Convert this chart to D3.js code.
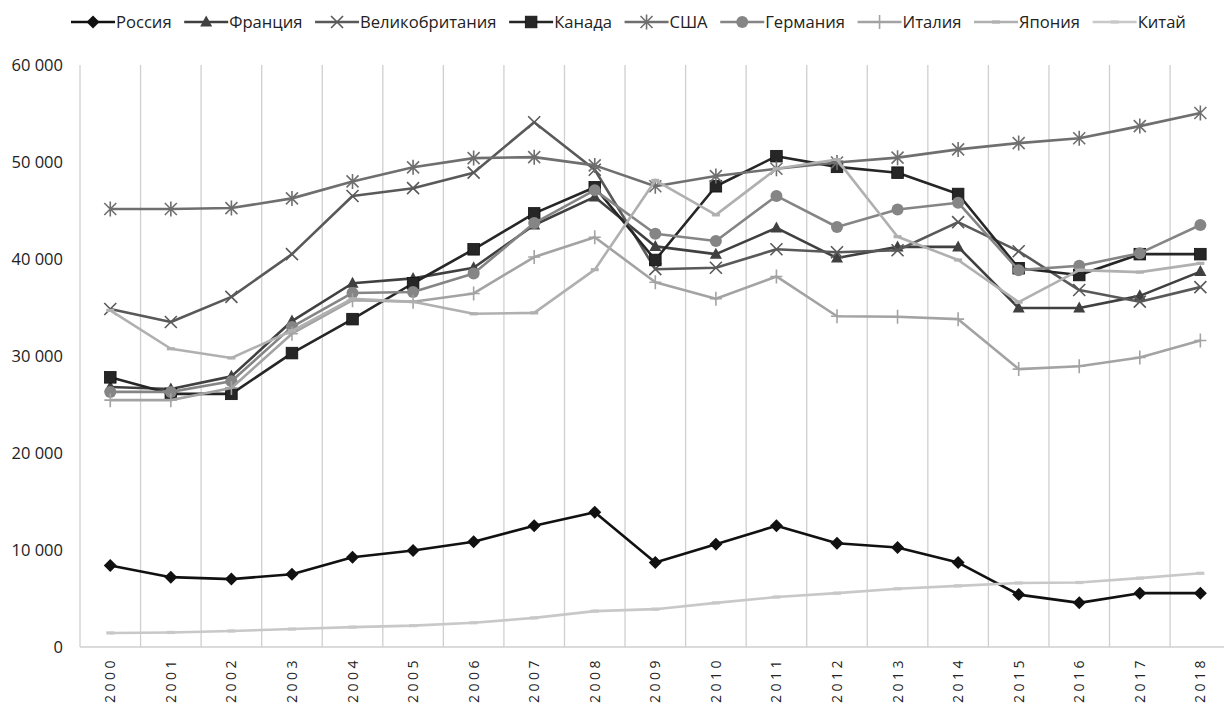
<!DOCTYPE html>
<html><head><meta charset="utf-8">
<script src="https://cdn.jsdelivr.net/npm/d3@7"></script>
<style>
body{margin:0;background:#fff}
svg{display:block}
text{font-family:"Open Sans",sans-serif;fill:#222}
</style>
</head><body>
<svg id="chart" width="1224" height="705"></svg>
<script>
// ---- data ----
const years = [2000,2001,2002,2003,2004,2005,2006,2007,2008,2009,2010,2011,2012,2013,2014,2015,2016,2017,2018];
const yTicks = [0,10000,20000,30000,40000,50000,60000];
const seriesNames = ["Россия","Франция","Великобритания","Канада","США","Германия","Италия","Япония","Китай"];
const russia  = [8400,7200,7000,7500,9250,9950,10850,12500,13900,8700,10600,12500,10700,10250,8700,5400,4550,5550,5550];
const france  = [26800,26600,27900,33600,37500,38000,39100,43500,46400,41300,40500,43200,40100,41250,41250,34950,34950,36200,38700];
const uk      = [34850,33500,36100,40500,46500,47300,48900,54100,49200,38950,39100,41000,40700,40900,43800,40800,36800,35600,37100];
const canada  = [27800,26100,26100,30300,33800,37500,41000,44700,47400,39900,47500,50600,49500,48900,46700,39050,38350,40500,40500];
const usa     = [45150,45150,45250,46250,48000,49450,50400,50500,49650,47500,48550,49300,49950,50450,51300,51950,52450,53700,55050];
const germany = [26300,26300,27400,33000,36500,36600,38500,43700,47100,42600,41850,46500,43300,45100,45800,38850,39300,40600,43500];
const italy   = [25450,25450,26700,32300,35750,35600,36450,40200,42250,37600,35900,38200,34100,34050,33800,28650,28950,29850,31600];
const japan   = [34700,30750,29800,32600,35900,35600,34350,34450,38900,48100,44550,49300,50250,42300,39900,35550,38850,38650,39550];
const china   = [1450,1500,1650,1850,2050,2200,2500,3000,3700,3900,4550,5150,5550,6000,6300,6600,6650,7100,7600];
const seriesValues = [russia,france,uk,canada,usa,germany,italy,japan,china];

// ---- styles (separate from data) ----
const styles = [
  {color:"#111111", marker:"diamond"},
  {color:"#404040", marker:"triangle"},
  {color:"#595959", marker:"x"},
  {color:"#262626", marker:"square"},
  {color:"#6f6f6f", marker:"star"},
  {color:"#858585", marker:"circle"},
  {color:"#a3a3a3", marker:"plus"},
  {color:"#b0b0b0", marker:"dash"},
  {color:"#c8c8c8", marker:"dash"}
];

(function(){
const svg = d3.select("#chart");
const pLeft = 80, pTop = 65, pBottom = 647;
const bandW = 60.56;
const pRight = pLeft + bandW * years.length;

const x = d3.scaleBand().domain(years).range([pLeft, pRight]).padding(0);
const y = d3.scaleLinear().domain([0, 60000]).range([pBottom, pTop]);
const cx = d => x(d) + x.bandwidth()/2;

const loc = d3.formatLocale({decimal:",", thousands:" ", grouping:[3], currency:["",""]});
const fmt = loc.format(",");

const grid = svg.append("g").attr("class", "grid");
const bounds = years.map(d => x(d)).concat([pRight]);
grid.selectAll("line.v").data(bounds).join("line").attr("class", "v")
  .attr("x1", d => d).attr("x2", d => d)
  .attr("y1", pTop).attr("y2", pBottom)
  .attr("stroke", "#cfcfcf").attr("stroke-width", 1.3);
grid.append("line").attr("x1", pLeft).attr("x2", pRight).attr("y1", y(0)).attr("y2", y(0))
  .attr("stroke", "#cfcfcf").attr("stroke-width", 1.3);
svg.append("rect").attr("x", 0).attr("y", pBottom + 1).attr("width", 1224).attr("height", 705 - pBottom)
  .attr("fill", "#fff");

svg.append("g").selectAll("text").data(yTicks).join("text")
  .attr("x", 63).attr("y", d => y(d)).attr("dy", "0.36em")
  .attr("text-anchor", "end").attr("font-size", 16.5)
  .text(d => fmt(d));

svg.append("g").selectAll("text").data(years).join("text")
  .attr("transform", d => `translate(${cx(d)+5},657) rotate(-90)`)
  .attr("text-anchor", "end").attr("font-size", 14)
  .attr("letter-spacing", "3.5px")
  .text(d => String(d));

function drawMarker(sel, type, color) {
  const s = 6.5;
  if (type === "diamond") {
    sel.append("path").attr("d", `M0,${-s}L${s},0L0,${s}L${-s},0Z`).attr("fill", color);
  } else if (type === "triangle") {
    sel.append("path").attr("d", `M0,-6.5L6,4.5L-6,4.5Z`).attr("fill", color);
  } else if (type === "square") {
    sel.append("rect").attr("x", -5.8).attr("y", -5.8).attr("width", 11.6).attr("height", 11.6)
      .attr("fill", color).attr("stroke", "#111").attr("stroke-width", 0.8);
  } else if (type === "circle") {
    sel.append("circle").attr("r", 6).attr("fill", color);
  } else if (type === "x") {
    sel.append("path").attr("d", `M-6,-6L6,6M-6,6L6,-6`).attr("stroke", color).attr("stroke-width", 1.6).attr("fill", "none");
  } else if (type === "star") {
    sel.append("path").attr("d", `M-6,-6L6,6M-6,6L6,-6M0,-7.5L0,7.5`).attr("stroke", color).attr("stroke-width", 1.6).attr("fill", "none");
  } else if (type === "plus") {
    sel.append("path").attr("d", `M-6,0L6,0M0,-7L0,7`).attr("stroke", color).attr("stroke-width", 1.6).attr("fill", "none");
  } else if (type === "dash") {
    sel.append("rect").attr("x", -4).attr("y", -1.6).attr("width", 8).attr("height", 3.2).attr("fill", color);
  }
}

const line = d3.line().x((d,i) => cx(years[i])).y(d => y(d));
const plot = svg.append("g");
seriesValues.forEach((vals, k) => {
  const st = styles[k];
  const sg = plot.append("g");
  sg.append("path").attr("d", line(vals)).attr("fill", "none")
    .attr("stroke", st.color).attr("stroke-width", 2.6).attr("stroke-linejoin", "round");
  sg.selectAll("g").data(vals).join("g")
    .attr("transform", (d,i) => `translate(${cx(years[i])},${y(d)})`)
    .each(function(){ drawMarker(d3.select(this), st.marker, st.color); });
});

const leg = svg.append("g");
let lx = 71;
const ly = 22;
seriesNames.forEach((name, k) => {
  const st = styles[k];
  const it = leg.append("g");
  it.append("line").attr("x1", lx).attr("x2", lx + 44).attr("y1", ly).attr("y2", ly)
    .attr("stroke", st.color).attr("stroke-width", 2.6);
  const mg = it.append("g").attr("transform", `translate(${lx+22},${ly})`);
  drawMarker(mg, st.marker, st.color);
  const t = it.append("text").attr("x", lx + 45).attr("y", ly).attr("dy", "0.36em")
    .attr("font-size", 16.6).text(name);
  const w = t.node().getComputedTextLength();
  lx = lx + 45 + w + 12.6;
});
})();
</script>
</body></html>
